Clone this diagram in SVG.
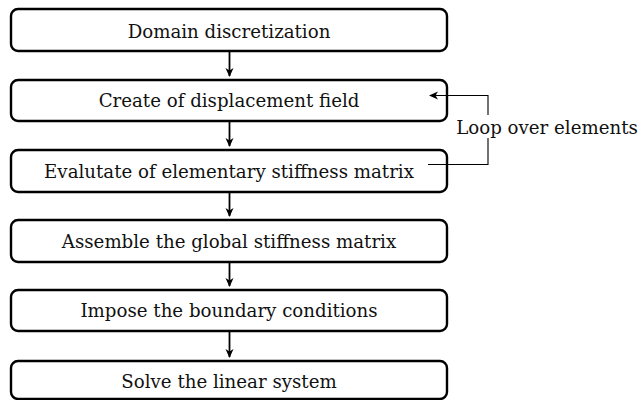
<svg xmlns="http://www.w3.org/2000/svg" width="638" height="400" viewBox="0 0 638 400">
<style>
.box{fill:#fff;stroke:#000;stroke-width:2.4}
.t{font-family:"DejaVu Serif",serif;font-size:18.2px;fill:#111;text-anchor:middle}
.c{stroke:#000;stroke-width:1.8;fill:none}
.l{stroke:#000;stroke-width:1.1;fill:none}
</style>
<defs>
<marker id="ah" markerWidth="10" markerHeight="10" refX="8" refY="5" orient="auto" markerUnits="userSpaceOnUse">
<path d="M0,1 L9,5 L0,9 L2.5,5 Z" fill="#000"/>
</marker>
</defs>
<rect width="638" height="400" fill="#fff"/>
<g id="n1"><rect class="box" x="11" y="9" width="436" height="42" rx="7"/><text class="t" x="229" y="37.5">Domain discretization</text></g>
<g id="n2"><rect class="box" x="11" y="80" width="436" height="41" rx="7"/><text class="t" x="229" y="107">Create of displacement field</text></g>
<g id="n3"><rect class="box" x="11" y="150" width="436" height="42" rx="7"/><text class="t" x="229" y="178">Evalutate of elementary stiffness matrix</text></g>
<g id="n4"><rect class="box" x="11" y="220" width="436" height="42" rx="7"/><text class="t" x="229" y="248">Assemble the global stiffness matrix</text></g>
<g id="n5"><rect class="box" x="11" y="290" width="436" height="41" rx="7"/><text class="t" x="229" y="317">Impose the boundary conditions</text></g>
<g id="n6"><rect class="box" x="11" y="361" width="436" height="38" rx="7"/><text class="t" x="229" y="388">Solve the linear system</text></g>
<g id="loop"><text class="t" x="547" y="134">Loop over elements</text></g>
<g id="connectors">
<line class="c" x1="229.5" y1="51" x2="229.5" y2="76" marker-end="url(#ah)"/>
<line class="c" x1="229.5" y1="121" x2="229.5" y2="146" marker-end="url(#ah)"/>
<line class="c" x1="229.5" y1="192" x2="229.5" y2="216" marker-end="url(#ah)"/>
<line class="c" x1="229.5" y1="262" x2="229.5" y2="286" marker-end="url(#ah)"/>
<line class="c" x1="229.5" y1="331" x2="229.5" y2="357" marker-end="url(#ah)"/>
<polyline class="l" points="428,164.5 488,164.5 488,138"/>
<polyline class="l" points="488,115 488,95.5 430,95.5" marker-end="url(#ah)"/>
</g>
</svg>
